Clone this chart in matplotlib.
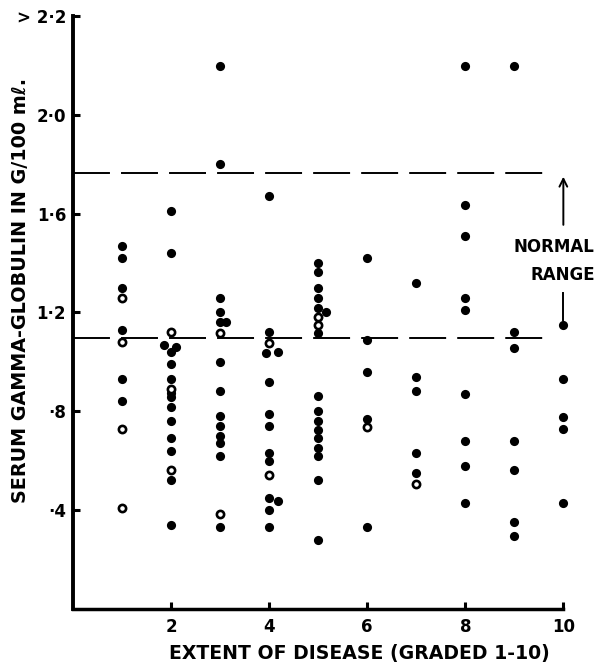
import matplotlib
matplotlib.use("Agg")
import matplotlib.pyplot as plt

# grade (x) and serum gamma-globulin (g/100 ml), solid dots
solid_x = [1, 1, 1, 1, 1, 1,
           2, 2, 1.85, 2.1, 2, 2, 2, 2, 2, 2, 2, 2, 2, 2, 2,
           3, 3, 3, 3, 3, 3.12, 3, 3, 3, 3, 3, 3, 3, 3,
           4, 4, 3.94, 4.18, 4, 4, 4, 4, 4, 4, 4.18, 4, 4,
           5, 5, 5, 5, 5, 5.15, 5, 5, 5, 5, 5, 5, 5, 5, 5, 5,
           6, 6, 6, 6, 6,
           7, 7, 7, 7, 7,
           8, 8, 8, 8, 8, 8, 8, 8, 8,
           9, 9, 9, 9, 9, 9, 9,
           10, 10, 10, 10, 10]
solid_y = [1.47, 1.42, 1.30, 1.13, 0.93, 0.84,
           1.61, 1.44, 1.07, 1.06, 1.04, 0.99, 0.93, 0.856, 0.816, 0.76, 0.69, 0.64, 0.52, 0.34, 0.875,
           2.20, 1.80, 1.26, 1.20, 1.16, 1.16, 1.00, 0.88, 0.78, 0.74, 0.70, 0.67, 0.62, 0.33,
           1.67, 1.12, 1.035, 1.04, 0.92, 0.79, 0.74, 0.63, 0.60, 0.45, 0.435, 0.40, 0.33,
           1.40, 1.365, 1.30, 1.26, 1.22, 1.20, 1.115, 0.86, 0.80, 0.76, 0.725, 0.69, 0.65, 0.62, 0.52, 0.28,
           1.42, 1.09, 0.96, 0.77, 0.33,
           1.32, 0.94, 0.88, 0.63, 0.55,
           2.20, 1.635, 1.51, 1.26, 1.21, 0.87, 0.68, 0.58, 0.43,
           2.20, 1.12, 1.055, 0.68, 0.56, 0.35, 0.295,
           1.15, 0.93, 0.775, 0.73, 0.43]

# poorly printed / open circles
open_x = [1, 1, 1, 1, 2, 2, 2, 3, 3, 4, 4, 5, 5, 6, 7]
open_y = [1.26, 1.08, 0.73, 0.41, 1.12, 0.89, 0.56, 1.115, 0.385, 1.075, 0.54,
          1.18, 1.15, 0.735, 0.505]

normal_low = 1.095
normal_high = 1.765

y_ticks = [0.4, 0.8, 1.2, 1.6, 2.0, 2.4]
y_labels = ["·4", "·8", "1·2", "1·6", "2·0", "> 2·2"]
x_ticks = [2, 4, 6, 8, 10]
x_labels = ["2", "4", "6", "8", "10"]

plt.rcParams['font.family'] = 'DejaVu Sans'
plt.rcParams['font.weight'] = 'bold'

fig = plt.figure(figsize=(6.04, 6.71), dpi=100)
ax = fig.add_axes([0.1209, 0.0928, 0.8118, 0.883])

# normal range
for yv in (normal_low, normal_high):
    ax.plot([0, 9.77], [yv, yv], color='black', lw=1.4, dashes=(19, 5.7))

ax.plot(solid_x, solid_y, 'o', color='black', markersize=6.6, markeredgewidth=0,
        clip_on=False, zorder=3)
ax.plot(open_x, open_y, 'o', markerfacecolor='white', markeredgecolor='black',
        markersize=5.2, markeredgewidth=1.9, clip_on=False, zorder=3)

ax.annotate("", xy=(10, 1.75), xytext=(10, 1.555),
            arrowprops=dict(arrowstyle='->', color='black', lw=1.4,
                            mutation_scale=14, shrinkA=0, shrinkB=0),
            annotation_clip=False)
ax.plot([10, 10], [1.28, 1.17], color='black', lw=1.4, clip_on=False)
ax.text(9.8, 1.466, "NORMAL", ha='center', va='center', fontsize=12, fontweight='bold')
ax.text(9.98, 1.35, "RANGE", ha='center', va='center', fontsize=12, fontweight='bold')

ax.set_xlim(0, 10)
ax.set_ylim(0, 2.4)
ax.set_xticks(x_ticks)
ax.set_xticklabels(x_labels)
ax.set_yticks(y_ticks)
ax.set_yticklabels(y_labels)
ax.spines['top'].set_visible(False)
ax.spines['right'].set_visible(False)
ax.spines['left'].set_linewidth(2.8)
ax.spines['bottom'].set_linewidth(2.5)
ax.tick_params(axis='both', direction='in', length=5, width=2.2, labelsize=12)
ax.tick_params(axis='x', pad=7)
ax.tick_params(axis='y', pad=5)

fig.text(359 / 604, 1 - 653 / 671, "EXTENT OF DISEASE (GRADED 1-10)",
         ha='center', va='center', fontsize=13.6, fontweight='bold')
fig.text(21 / 604, 1 - 290 / 671, "SERUM GAMMA-GLOBULIN IN G/100 mℓ.",
         ha='center', va='center', rotation=90, fontsize=13.8, fontweight='bold')

fig.savefig("out.png", dpi=100)
